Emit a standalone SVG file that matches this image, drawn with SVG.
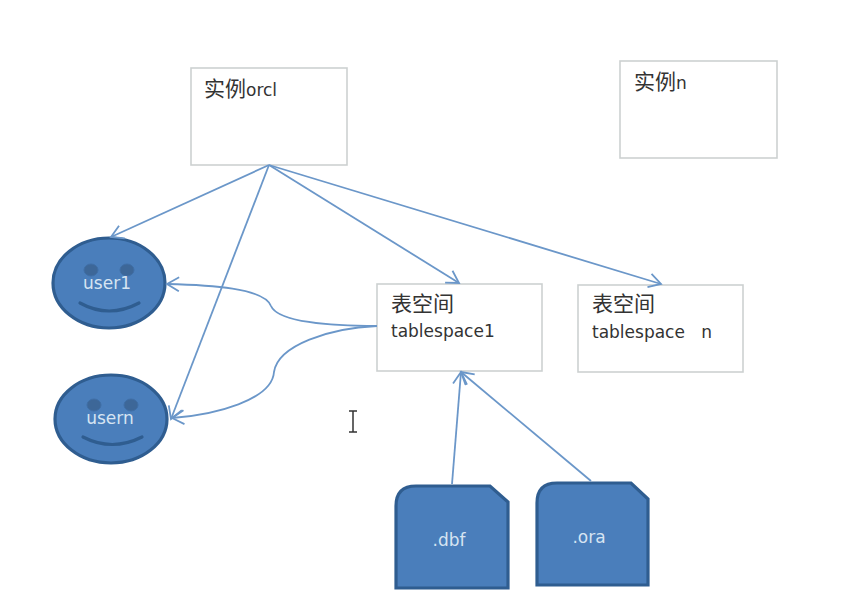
<svg xmlns="http://www.w3.org/2000/svg" width="866" height="612" viewBox="0 0 866 612">
  <style>
    .box { fill: #fff; stroke: #cdd1d1; stroke-width: 1.6; }
    .cn { font-family: "Noto Sans CJK SC", "Liberation Sans", sans-serif; font-size: 21px; fill: #333; }
    .lat { font-family: "DejaVu Sans", "Noto Sans CJK SC", sans-serif; font-size: 17px; fill: #333; }
    .inv { font-family: "DejaVu Sans", "Liberation Sans", sans-serif; font-size: 17px; fill: #d6e4f2; text-anchor: middle; }
    .solid { fill: #4a7ebb; stroke: #2f5d90; stroke-width: 3.2; }
    .eye { fill: #3d6798; stroke: #3f6ea6; stroke-width: 1; }
    .smile { fill: none; stroke: #2f5d90; stroke-width: 3.2; stroke-linecap: round; }
    .link { fill: none; stroke: #6b97c9; stroke-width: 1.8; marker-end: url(#open); }
  </style>
  <defs>
    <marker id="open" markerUnits="userSpaceOnUse" markerWidth="18" markerHeight="18" refX="13" refY="8" orient="auto">
      <path d="M1 1 L13 8 L1 15" fill="none" stroke="#6b97c9" stroke-width="1.8"/>
    </marker>
  </defs>
  <rect width="866" height="612" fill="#fff"/>

  <g id="instance-orcl">
    <rect class="box" x="191" y="68" width="156" height="97"/>
    <text x="204" y="96" class="cn">实例<tspan class="lat">orcl</tspan></text>
  </g>
  <g id="instance-n">
    <rect class="box" x="620" y="61" width="157" height="97"/>
    <text x="634" y="89" class="cn">实例<tspan class="lat">n</tspan></text>
  </g>
  <g id="tablespace-1">
    <rect class="box" x="377" y="284" width="165" height="87"/>
    <text x="391" y="311" class="cn">表空间</text>
    <text x="391" y="337" class="lat">tablespace1</text>
  </g>
  <g id="tablespace-n">
    <rect class="box" x="578" y="285" width="165" height="87"/>
    <text x="592" y="311" class="cn">表空间</text>
    <text x="592" y="338" class="lat" xml:space="preserve">tablespace   n</text>
  </g>

  <g id="user1">
    <ellipse class="solid" cx="109" cy="283" rx="56" ry="45"/>
    <ellipse class="eye" cx="91" cy="270" rx="7" ry="6"/>
    <ellipse class="eye" cx="127" cy="270" rx="7" ry="6"/>
    <path class="smile" d="M80 303 Q109 319 139 303"/>
    <text x="107" y="289" class="inv">user1</text>
  </g>
  <g id="usern">
    <ellipse class="solid" cx="111" cy="419" rx="56" ry="44"/>
    <ellipse class="eye" cx="94" cy="405" rx="7" ry="6"/>
    <ellipse class="eye" cx="131" cy="405" rx="7" ry="6"/>
    <path class="smile" d="M83 437 Q112 452 142 437"/>
    <text x="110" y="424" class="inv">usern</text>
  </g>

  <g id="file-dbf">
    <path class="solid" d="M396 588 V506 Q396 486 416 486 H490 L508 502 V588 Z"/>
    <text x="449" y="546" class="inv">.dbf</text>
  </g>
  <g id="file-ora">
    <path class="solid" d="M537 585 V503 Q537 483 557 483 H631 L648 499 V585 Z"/>
    <text x="589" y="543" class="inv">.ora</text>
  </g>

  <g id="connectors">
    <path class="link" d="M269 165 L111 237"/>
    <path class="link" d="M269 165 L171 419"/>
    <path class="link" d="M269 165 L459 283"/>
    <path class="link" d="M269 165 L661 284"/>
    <path class="link" d="M377 326 C330 326 278 322 271 306 C264 288 210 285 167 284"/>
    <path class="link" d="M377 326 C330 328 278 345 274 372 C272 400 215 415 172 418"/>
    <path class="link" d="M452 484 L461 372"/>
    <path class="link" d="M591 481 L461 372"/>
  </g>

  <g id="text-cursor" fill="none" stroke="#333" stroke-width="1.5">
    <path d="M349 411 H357 M349 432 H357 M353 411 V432"/>
  </g>
</svg>
